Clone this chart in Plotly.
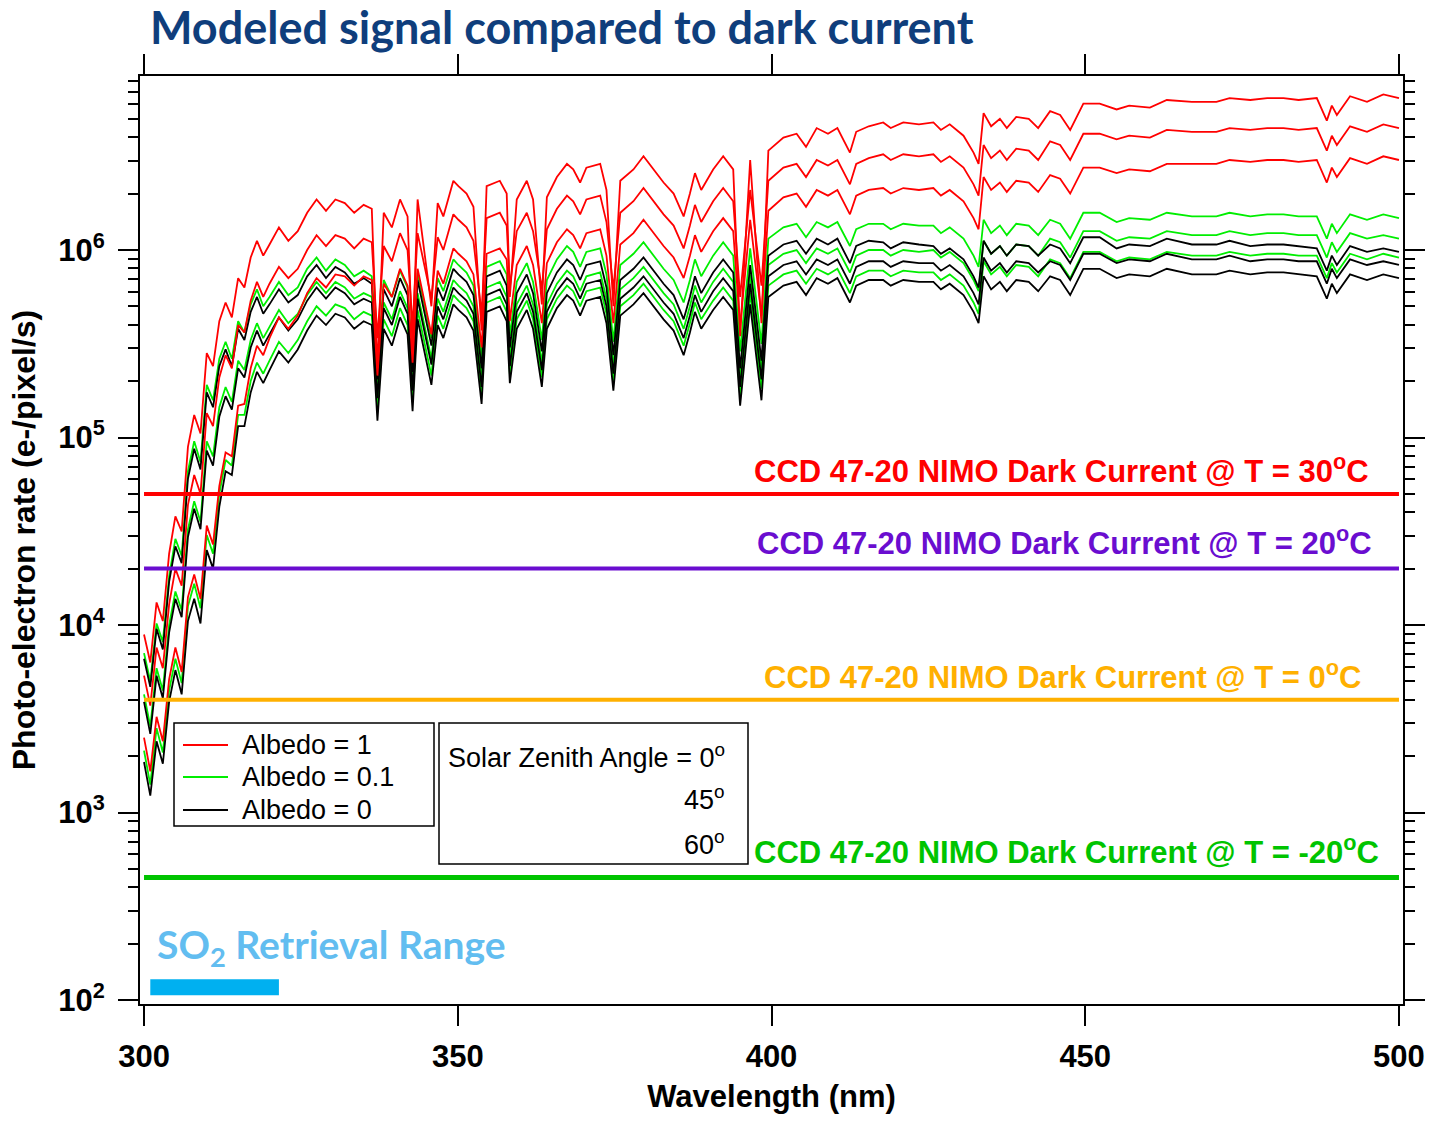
import plotly.graph_objects as go

# ---------------- data ----------------
WAVELENGTH = [300, 301, 302, 303, 304, 305, 306, 307, 308, 309, 310, 311, 312, 313, 314, 315, 316, 317, 318, 319, 320,
              321.5, 323, 324.5, 326, 327.5, 329, 330.5, 332, 333.5, 335,
              336.3, 337.2, 338.2, 339.5, 340.8, 342.0, 342.8, 343.6, 344.8, 345.8,
              346.8, 347.7, 349.3, 350.1, 351.4, 352.5, 353.8, 354.6, 356.7, 357.8,
              358.3, 359.4, 361.0, 362.0, 363.4, 364.2, 365.8, 367.4, 368.4, 369.5,
              370.5, 372.7, 373.7, 374.8, 375.9, 378.0, 379.6, 381.2, 382.8, 384.4,
              386.0, 387.0, 387.8, 388.8, 390.7, 392.3, 393.9, 395.0, 396.6, 398.4,
              399.5, 401.9, 404.0, 405.5, 407.2, 409.0, 410.5, 412.5, 413.5, 415.5,
              417.8, 419.0, 421.0, 423.5, 425.8, 427.0, 428.4, 430.6, 432.2, 433.0,
              433.8, 435.0, 436.4, 437.5, 439.0, 441.0, 442.5, 444.4, 446.0, 447.6,
              449.7, 452.3, 455.0, 457.0, 460.3, 463.0, 467.0, 470.9, 473.0, 476.3,
              479.0, 481.6, 484.0, 486.9, 488.5, 489.3, 490.1, 492.2, 494.9, 497.5,
              500.0]

# Albedo = 1
ALB1_SZA0 = [8.91e3, 6.31e3, 1.32e4, 1.05e4, 2.40e4, 3.80e4, 3.16e4, 8.91e4, 1.32e5, 1.05e5, 2.82e5, 2.40e5, 4.17e5, 5.25e5, 4.37e5, 7.08e5, 6.31e5, 9.12e5, 1.12e6, 9.33e5, 1.07e6,
             1.32e6, 1.12e6, 1.26e6, 1.58e6, 1.86e6, 1.62e6, 1.86e6, 1.78e6, 1.58e6, 1.74e6,
             1.66e6, 2.34e5, 1.58e6, 1.32e6, 1.86e6, 1.51e6, 2.95e5, 1.86e6, 8.91e5, 5.01e5,
             1.78e6, 1.51e6, 2.34e6, 2.19e6, 2.00e6, 1.70e6, 3.72e5, 2.19e6, 2.34e6, 2.00e6,
             5.62e5, 1.86e6, 2.34e6, 1.86e6, 5.13e5, 1.91e6, 2.45e6, 2.88e6, 2.69e6, 2.29e6,
             2.75e6, 2.88e6, 2.09e6, 5.01e5, 2.34e6, 2.69e6, 3.16e6, 2.69e6, 2.29e6, 2.00e6,
             1.51e6, 2.00e6, 2.57e6, 2.09e6, 2.69e6, 3.16e6, 2.69e6, 3.47e5, 3.02e6, 4.07e5,
             3.39e6, 3.98e6, 4.17e6, 3.55e6, 4.47e6, 4.17e6, 4.47e6, 3.31e6, 4.27e6, 4.57e6,
             4.79e6, 4.47e6, 4.79e6, 4.68e6, 4.79e6, 4.37e6, 4.68e6, 4.07e6, 3.31e6, 2.88e6,
             5.37e6, 4.57e6, 5.01e6, 4.47e6, 5.13e6, 5.01e6, 4.47e6, 5.50e6, 5.25e6, 4.37e6,
             6.03e6, 6.03e6, 5.62e6, 5.89e6, 5.75e6, 6.31e6, 6.17e6, 6.17e6, 6.46e6, 6.31e6,
             6.46e6, 6.46e6, 6.31e6, 6.46e6, 4.90e6, 5.89e6, 5.25e6, 6.61e6, 6.17e6, 6.76e6,
             6.46e6]
ALB1_SZA45 = [5.37e3, 3.72e3, 7.59e3, 5.89e3, 1.29e4, 2.00e4, 1.62e4, 4.37e4, 6.31e4, 5.01e4, 1.35e5, 1.15e5, 2.09e5, 2.75e5, 2.34e5, 3.98e5, 3.63e5, 5.37e5, 6.76e5, 5.62e5, 6.61e5,
              8.13e5, 7.08e5, 7.94e5, 1.00e6, 1.20e6, 1.05e6, 1.20e6, 1.15e6, 1.02e6, 1.15e6,
              1.10e6, 3.39e5, 1.05e6, 8.71e5, 1.23e6, 1.00e6, 3.89e5, 1.23e6, 7.76e5, 5.50e5,
              1.17e6, 1.00e6, 1.55e6, 1.45e6, 1.32e6, 1.12e6, 4.57e5, 1.48e6, 1.58e6, 1.35e6,
              6.31e5, 1.26e6, 1.58e6, 1.26e6, 6.17e5, 1.29e6, 1.66e6, 1.95e6, 1.82e6, 1.55e6,
              1.86e6, 1.95e6, 1.41e6, 6.17e5, 1.58e6, 1.82e6, 2.14e6, 1.82e6, 1.55e6, 1.35e6,
              1.02e6, 1.35e6, 1.74e6, 1.41e6, 1.82e6, 2.14e6, 1.82e6, 5.62e5, 2.09e6, 6.46e5,
              2.34e6, 2.75e6, 2.88e6, 2.45e6, 3.02e6, 2.82e6, 3.02e6, 2.24e6, 2.88e6, 3.09e6,
              3.24e6, 3.02e6, 3.24e6, 3.16e6, 3.24e6, 2.95e6, 3.16e6, 2.75e6, 2.24e6, 1.95e6,
              3.63e6, 3.09e6, 3.39e6, 3.02e6, 3.47e6, 3.39e6, 3.02e6, 3.80e6, 3.63e6, 3.02e6,
              4.17e6, 4.17e6, 3.89e6, 4.07e6, 3.98e6, 4.37e6, 4.27e6, 4.27e6, 4.47e6, 4.37e6,
              4.47e6, 4.47e6, 4.37e6, 4.47e6, 3.39e6, 4.07e6, 3.63e6, 4.57e6, 4.27e6, 4.68e6,
              4.47e6]
ALB1_SZA60 = [2.51e3, 1.66e3, 3.24e3, 2.40e3, 5.13e3, 7.59e3, 5.62e3, 1.41e4, 1.86e4, 1.38e4, 3.39e4, 2.69e4, 5.50e4, 8.32e4, 7.94e4, 1.48e5, 1.51e5, 2.34e5, 3.09e5, 2.75e5, 3.39e5,
              4.37e5, 3.80e5, 4.47e5, 5.89e5, 7.08e5, 6.31e5, 7.41e5, 7.24e5, 6.46e5, 7.24e5,
              6.92e5, 2.14e5, 6.61e5, 5.62e5, 7.94e5, 6.46e5, 2.51e5, 7.94e5, 5.01e5, 3.55e5,
              7.76e5, 6.61e5, 1.02e6, 9.55e5, 8.71e5, 7.41e5, 3.02e5, 9.55e5, 1.02e6, 8.91e5,
              4.17e5, 8.32e5, 1.05e6, 8.32e5, 4.07e5, 8.51e5, 1.10e6, 1.29e6, 1.20e6, 1.02e6,
              1.23e6, 1.29e6, 9.33e5, 4.07e5, 1.07e6, 1.23e6, 1.45e6, 1.23e6, 1.05e6, 9.12e5,
              7.08e5, 9.33e5, 1.20e6, 9.77e5, 1.26e6, 1.48e6, 1.26e6, 3.89e5, 1.45e6, 4.47e5,
              1.62e6, 1.91e6, 2.00e6, 1.70e6, 2.09e6, 1.95e6, 2.09e6, 1.55e6, 1.95e6, 2.09e6,
              2.14e6, 2.00e6, 2.14e6, 2.09e6, 2.14e6, 1.95e6, 2.09e6, 1.82e6, 1.48e6, 1.29e6,
              2.45e6, 2.09e6, 2.29e6, 2.04e6, 2.34e6, 2.29e6, 2.04e6, 2.51e6, 2.40e6, 2.00e6,
              2.75e6, 2.75e6, 2.57e6, 2.69e6, 2.63e6, 2.88e6, 2.88e6, 2.88e6, 3.02e6, 2.95e6,
              3.02e6, 3.02e6, 2.95e6, 3.02e6, 2.29e6, 2.75e6, 2.45e6, 3.09e6, 2.88e6, 3.16e6,
              3.02e6]

# Albedo = 0.1
ALB01_SZA0 = [7.08e3, 5.01e3, 1.02e4, 8.13e3, 1.82e4, 2.88e4, 2.34e4, 6.61e4, 9.55e4, 7.41e4, 1.91e5, 1.58e5, 2.63e5, 3.24e5, 2.63e5, 4.17e5, 3.63e5, 5.13e5, 6.17e5, 5.01e5, 5.62e5,
              6.76e5, 5.75e5, 6.31e5, 7.94e5, 9.12e5, 7.76e5, 8.91e5, 8.32e5, 7.24e5, 7.76e5,
              7.24e5, 2.24e5, 6.92e5, 5.62e5, 7.76e5, 6.31e5, 2.45e5, 7.59e5, 4.79e5, 3.39e5,
              7.08e5, 6.03e5, 8.91e5, 8.32e5, 7.59e5, 6.46e5, 2.63e5, 8.13e5, 8.71e5, 7.41e5,
              3.47e5, 6.76e5, 8.51e5, 6.76e5, 3.31e5, 6.92e5, 8.91e5, 1.05e6, 9.77e5, 8.13e5,
              9.77e5, 1.02e6, 7.41e5, 3.24e5, 8.32e5, 9.55e5, 1.10e6, 9.33e5, 7.94e5, 6.92e5,
              5.25e5, 6.92e5, 8.91e5, 7.24e5, 9.33e5, 1.10e6, 9.33e5, 2.88e5, 1.02e6, 3.16e5,
              1.15e6, 1.32e6, 1.38e6, 1.17e6, 1.41e6, 1.32e6, 1.41e6, 1.05e6, 1.29e6, 1.38e6,
              1.38e6, 1.29e6, 1.38e6, 1.35e6, 1.35e6, 1.23e6, 1.32e6, 1.15e6, 9.33e5, 8.13e5,
              1.45e6, 1.23e6, 1.35e6, 1.20e6, 1.38e6, 1.35e6, 1.20e6, 1.45e6, 1.38e6, 1.15e6,
              1.58e6, 1.58e6, 1.41e6, 1.48e6, 1.45e6, 1.58e6, 1.51e6, 1.51e6, 1.58e6, 1.51e6,
              1.55e6, 1.55e6, 1.51e6, 1.51e6, 1.15e6, 1.38e6, 1.23e6, 1.55e6, 1.45e6, 1.55e6,
              1.48e6]
ALB01_SZA45 = [4.27e3, 2.88e3, 5.89e3, 4.47e3, 1.00e4, 1.51e4, 1.20e4, 3.24e4, 4.57e4, 3.55e4, 9.55e4, 7.94e4, 1.45e5, 1.86e5, 1.55e5, 2.57e5, 2.29e5, 3.31e5, 4.07e5, 3.39e5, 3.89e5,
               4.79e5, 4.07e5, 4.57e5, 5.75e5, 6.76e5, 5.89e5, 6.76e5, 6.31e5, 5.50e5, 5.89e5,
               5.62e5, 1.74e5, 5.25e5, 4.27e5, 6.03e5, 4.90e5, 1.91e5, 5.89e5, 3.72e5, 2.63e5,
               5.50e5, 4.68e5, 6.92e5, 6.46e5, 5.89e5, 5.01e5, 2.04e5, 6.31e5, 6.76e5, 5.62e5,
               2.63e5, 5.13e5, 6.46e5, 5.13e5, 2.51e5, 5.13e5, 6.61e5, 7.76e5, 7.24e5, 6.03e5,
               7.24e5, 7.59e5, 5.50e5, 2.40e5, 6.17e5, 7.08e5, 8.13e5, 6.92e5, 5.89e5, 5.13e5,
               3.80e5, 5.01e5, 6.46e5, 5.25e5, 6.76e5, 7.94e5, 6.76e5, 2.09e5, 7.41e5, 2.29e5,
               8.32e5, 9.55e5, 1.00e6, 8.51e5, 1.02e6, 9.55e5, 1.02e6, 7.59e5, 9.33e5, 1.00e6,
               1.00e6, 9.33e5, 1.00e6, 9.77e5, 1.00e6, 9.12e5, 9.77e5, 8.51e5, 6.92e5, 6.03e5,
               1.12e6, 9.55e5, 1.05e6, 9.33e5, 1.07e6, 1.05e6, 9.33e5, 1.15e6, 1.10e6, 9.12e5,
               1.26e6, 1.26e6, 1.12e6, 1.17e6, 1.15e6, 1.26e6, 1.20e6, 1.20e6, 1.26e6, 1.20e6,
               1.23e6, 1.23e6, 1.20e6, 1.20e6, 9.12e5, 1.10e6, 9.77e5, 1.23e6, 1.15e6, 1.20e6,
               1.15e6]
ALB01_SZA60 = [2.14e3, 1.41e3, 2.82e3, 2.09e3, 4.47e3, 6.61e3, 4.90e3, 1.26e4, 1.66e4, 1.23e4, 3.02e4, 2.40e4, 5.01e4, 7.59e4, 7.08e4, 1.32e5, 1.32e5, 2.00e5, 2.51e5, 2.19e5, 2.57e5,
               3.24e5, 2.82e5, 3.31e5, 4.17e5, 5.01e5, 4.47e5, 5.13e5, 4.90e5, 4.27e5, 4.68e5,
               4.47e5, 1.38e5, 4.27e5, 3.47e5, 4.90e5, 3.98e5, 1.55e5, 4.79e5, 3.02e5, 2.14e5,
               4.47e5, 3.80e5, 5.75e5, 5.37e5, 4.90e5, 4.17e5, 1.70e5, 5.25e5, 5.62e5, 4.68e5,
               2.19e5, 4.27e5, 5.37e5, 4.27e5, 2.09e5, 4.27e5, 5.50e5, 6.46e5, 6.03e5, 5.01e5,
               6.03e5, 6.31e5, 4.57e5, 2.00e5, 5.01e5, 5.75e5, 6.61e5, 5.62e5, 4.79e5, 4.17e5,
               3.09e5, 4.07e5, 5.25e5, 4.27e5, 5.37e5, 6.31e5, 5.37e5, 1.66e5, 5.89e5, 1.82e5,
               6.46e5, 7.41e5, 7.76e5, 6.61e5, 7.94e5, 7.41e5, 7.94e5, 5.89e5, 7.24e5, 7.76e5,
               7.76e5, 7.24e5, 7.76e5, 7.59e5, 7.59e5, 6.92e5, 7.41e5, 6.46e5, 5.25e5, 4.57e5,
               8.71e5, 7.41e5, 8.13e5, 7.24e5, 8.32e5, 8.13e5, 7.24e5, 8.91e5, 8.51e5, 7.08e5,
               9.77e5, 9.77e5, 8.71e5, 9.12e5, 8.91e5, 9.77e5, 9.33e5, 9.33e5, 9.77e5, 9.33e5,
               9.55e5, 9.55e5, 9.33e5, 9.33e5, 7.08e5, 8.51e5, 7.59e5, 9.55e5, 8.91e5, 9.55e5,
               9.12e5]

# Albedo = 0
ALB0_SZA0 = [6.61e3, 4.68e3, 9.55e3, 7.41e3, 1.70e4, 2.63e4, 2.14e4, 6.03e4, 8.71e4, 6.76e4, 1.74e5, 1.45e5, 2.40e5, 2.95e5, 2.40e5, 3.80e5, 3.31e5, 4.68e5, 5.62e5, 4.57e5, 5.13e5,
             6.17e5, 5.25e5, 5.75e5, 7.24e5, 8.32e5, 7.08e5, 8.13e5, 7.59e5, 6.61e5, 7.08e5,
             6.61e5, 2.04e5, 6.17e5, 5.01e5, 7.08e5, 5.75e5, 2.24e5, 6.92e5, 4.37e5, 3.09e5,
             6.31e5, 5.37e5, 7.94e5, 7.41e5, 6.76e5, 5.75e5, 2.34e5, 7.24e5, 7.76e5, 6.46e5,
             3.02e5, 5.89e5, 7.41e5, 5.89e5, 2.88e5, 5.89e5, 7.59e5, 8.91e5, 8.32e5, 6.92e5,
             8.32e5, 8.71e5, 6.31e5, 2.75e5, 6.92e5, 7.94e5, 9.12e5, 7.76e5, 6.61e5, 5.75e5,
             4.27e5, 5.62e5, 7.24e5, 5.89e5, 7.59e5, 8.91e5, 7.59e5, 2.34e5, 8.32e5, 2.57e5,
             9.33e5, 1.07e6, 1.12e6, 9.55e5, 1.15e6, 1.07e6, 1.15e6, 8.51e5, 1.05e6, 1.12e6,
             1.10e6, 1.02e6, 1.10e6, 1.07e6, 1.05e6, 9.55e5, 1.02e6, 8.91e5, 7.24e5, 6.31e5,
             1.12e6, 9.55e5, 1.05e6, 9.33e5, 1.07e6, 1.05e6, 9.33e5, 1.07e6, 1.02e6, 8.51e5,
             1.17e6, 1.17e6, 1.02e6, 1.07e6, 1.05e6, 1.15e6, 1.07e6, 1.07e6, 1.12e6, 1.05e6,
             1.07e6, 1.07e6, 1.05e6, 1.02e6, 7.76e5, 9.33e5, 8.32e5, 1.05e6, 9.77e5, 1.02e6,
             9.77e5]
ALB0_SZA45 = [3.89e3, 2.63e3, 5.37e3, 4.07e3, 9.12e3, 1.38e4, 1.10e4, 2.95e4, 4.17e4, 3.24e4, 8.51e4, 7.08e4, 1.29e5, 1.66e5, 1.41e5, 2.34e5, 2.09e5, 3.02e5, 3.72e5, 3.09e5, 3.55e5,
              4.37e5, 3.72e5, 4.27e5, 5.37e5, 6.31e5, 5.50e5, 6.31e5, 5.89e5, 5.13e5, 5.50e5,
              5.25e5, 1.62e5, 4.90e5, 3.98e5, 5.62e5, 4.57e5, 1.78e5, 5.50e5, 3.47e5, 2.45e5,
              5.01e5, 4.27e5, 6.31e5, 5.89e5, 5.37e5, 4.57e5, 1.86e5, 5.75e5, 6.17e5, 5.13e5,
              2.40e5, 4.68e5, 5.89e5, 4.68e5, 2.29e5, 4.68e5, 6.03e5, 7.08e5, 6.61e5, 5.50e5,
              6.61e5, 6.92e5, 5.01e5, 2.19e5, 5.50e5, 6.31e5, 7.24e5, 6.17e5, 5.25e5, 4.57e5,
              3.39e5, 4.47e5, 5.75e5, 4.68e5, 6.03e5, 7.08e5, 6.03e5, 1.86e5, 6.61e5, 2.04e5,
              7.24e5, 8.32e5, 8.71e5, 7.41e5, 8.91e5, 8.32e5, 8.91e5, 6.61e5, 8.13e5, 8.71e5,
              8.71e5, 8.13e5, 8.71e5, 8.51e5, 8.51e5, 7.76e5, 8.32e5, 7.24e5, 5.89e5, 5.13e5,
              9.12e5, 7.76e5, 8.51e5, 7.59e5, 8.71e5, 8.51e5, 7.59e5, 8.71e5, 8.32e5, 6.92e5,
              9.55e5, 9.55e5, 8.51e5, 8.91e5, 8.71e5, 9.55e5, 8.91e5, 8.91e5, 9.33e5, 8.71e5,
              8.91e5, 8.91e5, 8.71e5, 8.71e5, 6.61e5, 7.94e5, 7.08e5, 8.91e5, 8.32e5, 8.71e5,
              8.32e5]
ALB0_SZA60 = [1.86e3, 1.23e3, 2.40e3, 1.82e3, 3.89e3, 5.75e3, 4.27e3, 1.05e4, 1.38e4, 1.02e4, 2.51e4, 2.00e4, 4.27e4, 6.61e4, 6.31e4, 1.15e5, 1.15e5, 1.74e5, 2.24e5, 1.95e5, 2.29e5,
              2.88e5, 2.51e5, 2.95e5, 3.72e5, 4.47e5, 3.98e5, 4.57e5, 4.37e5, 3.80e5, 4.17e5,
              3.98e5, 1.23e5, 3.80e5, 3.09e5, 4.37e5, 3.55e5, 1.38e5, 4.27e5, 2.69e5, 1.91e5,
              3.98e5, 3.39e5, 5.13e5, 4.79e5, 4.37e5, 3.72e5, 1.51e5, 4.68e5, 5.01e5, 4.17e5,
              1.95e5, 3.80e5, 4.79e5, 3.80e5, 1.86e5, 3.80e5, 4.90e5, 5.75e5, 5.37e5, 4.47e5,
              5.37e5, 5.62e5, 4.07e5, 1.78e5, 4.47e5, 5.13e5, 5.89e5, 5.01e5, 4.27e5, 3.72e5,
              2.75e5, 3.63e5, 4.68e5, 3.80e5, 4.79e5, 5.62e5, 4.79e5, 1.48e5, 5.13e5, 1.58e5,
              5.62e5, 6.46e5, 6.76e5, 5.75e5, 7.08e5, 6.61e5, 7.08e5, 5.25e5, 6.46e5, 6.92e5,
              6.92e5, 6.46e5, 6.92e5, 6.76e5, 6.76e5, 6.17e5, 6.61e5, 5.75e5, 4.68e5, 4.07e5,
              7.24e5, 6.17e5, 6.76e5, 6.03e5, 6.92e5, 6.76e5, 6.03e5, 7.24e5, 6.92e5, 5.75e5,
              7.94e5, 7.94e5, 7.08e5, 7.41e5, 7.24e5, 7.94e5, 7.41e5, 7.41e5, 7.76e5, 7.41e5,
              7.59e5, 7.59e5, 7.41e5, 7.24e5, 5.50e5, 6.61e5, 5.89e5, 7.41e5, 6.92e5, 7.41e5,
              7.08e5]

ALBEDO_LABELS = ["Albedo = 1", "Albedo = 0.1", "Albedo = 0"]
SZA_LABELS = ["0", "45", "60"]

DARK_TEMP_C = [30, 20, 0, -20]
DARK_RATE = [5.0e4, 2.0e4, 4.0e3, 4.5e2]

SO2_RANGE_NM = [301.0, 321.5]

X_TICKS = [300, 350, 400, 450, 500]
Y_TICKS = [1e2, 1e3, 1e4, 1e5, 1e6]
Y_TICK_TEXT = ["10<sup>2</sup>", "10<sup>3</sup>", "10<sup>4</sup>", "10<sup>5</sup>", "10<sup>6</sup>"]

# ---------------- styling ----------------
SANS = "Liberation Sans, Arial, sans-serif"
CALIBRI = "Lato, Open Sans, sans-serif"
ALBEDO_COLORS = {"Albedo = 1": "#FF0000", "Albedo = 0.1": "#00EE00", "Albedo = 0": "#000000"}
DARK_COLORS = ["#FF0000", "#6A0DD0", "#FFB000", "#00C400"]
DARK_WIDTHS = [4, 4, 4, 5]

series = {
    "Albedo = 1": [ALB1_SZA0, ALB1_SZA45, ALB1_SZA60],
    "Albedo = 0.1": [ALB01_SZA0, ALB01_SZA45, ALB01_SZA60],
    "Albedo = 0": [ALB0_SZA0, ALB0_SZA45, ALB0_SZA60],
}

fig = go.Figure()

draw_order = ["Albedo = 0.1", "Albedo = 0", "Albedo = 1"]
for name in draw_order:
    for k, ys in enumerate(series[name]):
        fig.add_trace(go.Scatter(
            x=WAVELENGTH, y=ys, mode="lines",
            name=name + ", SZA " + SZA_LABELS[k] + "°", legendgroup=name, showlegend=False,
            line=dict(color=ALBEDO_COLORS[name], width=1.8),
            hovertemplate=name + ", SZA " + SZA_LABELS[k] + "°<br>%{x} nm: %{y:.3s}<extra></extra>",
        ))

for t, rate, col, w in zip(DARK_TEMP_C, DARK_RATE, DARK_COLORS, DARK_WIDTHS):
    fig.add_trace(go.Scatter(
        x=[WAVELENGTH[0], WAVELENGTH[-1]], y=[rate, rate], mode="lines",
        line=dict(color=col, width=w), showlegend=False,
        hovertemplate=f"Dark current @ {t}°C: %{{y}}<extra></extra>",
    ))

fig.add_trace(go.Scatter(
    x=SO2_RANGE_NM, y=[117, 117], mode="lines",
    line=dict(color="#00B0F0", width=16), showlegend=False,
    hovertemplate="SO2 retrieval range<extra></extra>",
))

# plot-area geometry (pixels)
L, R, T, B = 140, 31, 76, 120
W, H = 1434, 1124
PW, PH = W - L - R, H - T - B


def px(x):
    return (x - L) / PW


def py(y):
    return 1 - (y - T) / PH


annotations = []
shapes = []

# dark current labels
dark_label_pos = [(752, 469), (755, 541), (762, 675), (752, 850)]
for t, col, (lx, ly) in zip(DARK_TEMP_C, DARK_COLORS, dark_label_pos):
    annotations.append(dict(
        xref="paper", yref="paper", x=px(lx), y=py(ly), xanchor="left", yanchor="middle",
        text=f"CCD 47-20 NIMO Dark Current @ T = {t}<sup>o</sup>C", showarrow=False,
        font=dict(family=SANS, size=31, color=col, weight="bold"),
    ))

# albedo legend box (manual)
shapes.append(dict(type="rect", xref="paper", yref="paper", x0=px(174), x1=px(434), y0=py(826), y1=py(723),
                   line=dict(color="black", width=1.5), fillcolor="white", layer="above"))
for name, ly in zip(ALBEDO_LABELS, [745, 777, 810]):
    shapes.append(dict(type="line", xref="paper", yref="paper", x0=px(183), x1=px(228), y0=py(ly), y1=py(ly),
                       line=dict(color=ALBEDO_COLORS[name], width=1.8), layer="above"))
    annotations.append(dict(
        xref="paper", yref="paper", x=px(240), y=py(ly), xanchor="left", yanchor="middle",
        text=name, showarrow=False, font=dict(family=SANS, size=27, color="black"),
    ))

# solar zenith angle box
shapes.append(dict(type="rect", xref="paper", yref="paper", x0=px(439), x1=px(748), y0=py(864), y1=py(723),
                   line=dict(color="black", width=1.5), fillcolor="white", layer="above"))
sza_pos = [(727, 756), (727, 798), (727, 843)]
sza_texts = ["Solar Zenith Angle = " + SZA_LABELS[0] + "<sup>o</sup>",
             SZA_LABELS[1] + "<sup>o</sup>", SZA_LABELS[2] + "<sup>o</sup>"]
for txt, (sx, sy) in zip(sza_texts, sza_pos):
    annotations.append(dict(
        xref="paper", yref="paper", x=px(sx), y=py(sy), xanchor="right", yanchor="middle",
        text=txt, showarrow=False, font=dict(family=SANS, size=27, color="black"),
    ))

annotations.append(dict(
    xref="paper", yref="paper", x=px(155), y=py(947), xanchor="left", yanchor="middle",
    text="SO<sub>2</sub> Retrieval Range", showarrow=False,
    font=dict(family=CALIBRI, size=39, color="#62BDF0", weight="bold"),
))

tick_font = dict(family=SANS, size=31, color="black", weight="bold")
title_font = dict(family=SANS, size=31, color="black", weight="bold")

fig.update_layout(
    width=W, height=H, autosize=False,
    margin=dict(l=L, r=R, t=T, b=B, autoexpand=False),
    paper_bgcolor="white", plot_bgcolor="white",
    title=dict(text="Modeled signal compared to dark current", xref="container", yref="container",
               x=150 / W, y=1 - 28 / H, xanchor="left", yanchor="middle",
               font=dict(family=CALIBRI, size=45, color="#0F3E7C", weight="bold")),
    showlegend=False,
    annotations=annotations, shapes=shapes,
    xaxis=dict(range=[299.36, 500.64], tickvals=X_TICKS, ticktext=[str(v) for v in X_TICKS],
               ticks="outside", ticklen=20, tickwidth=1.5, tickcolor="black",
               showline=True, linecolor="black", linewidth=2, mirror="ticks",
               showgrid=False, zeroline=False, tickfont=tick_font, ticklabelstandoff=4,
               automargin=False,
               title=dict(text="Wavelength (nm)", font=title_font, standoff=12)),
    yaxis=dict(type="log", range=[1.979, 6.928], tickvals=Y_TICKS, ticktext=Y_TICK_TEXT,
               ticks="outside", ticklen=20, tickwidth=1.5, tickcolor="black",
               minor=dict(tickvals=[k * 10 ** n for n in range(1, 7) for k in range(2, 10)],
                          ticks="outside", ticklen=10, tickwidth=1.5, tickcolor="black", showgrid=False),
               showline=True, linecolor="black", linewidth=2, mirror="ticks",
               showgrid=False, zeroline=False, tickfont=tick_font, ticklabelstandoff=7,
               automargin=False,
               title=dict(text="Photo-electron rate (e-/pixel/s)", font=dict(family=SANS, size=32, color="black", weight="bold"),
                          standoff=13)),
)

fig.write_html("out.html")
